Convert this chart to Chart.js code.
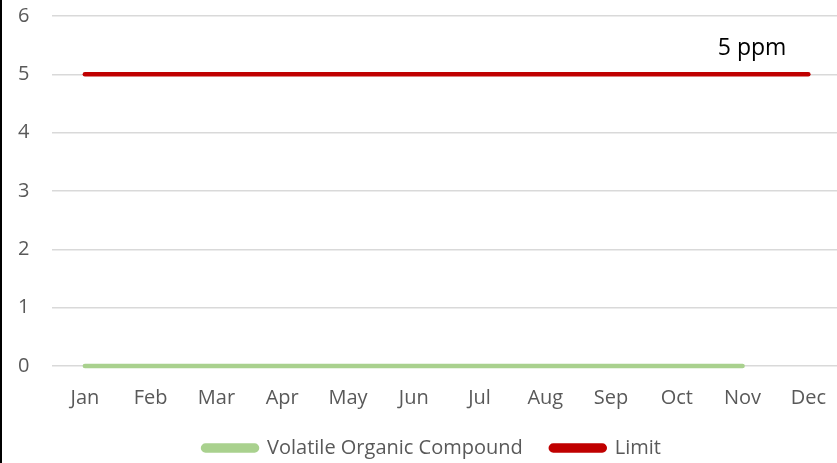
<!DOCTYPE html>
<html>
<head>
<meta charset="utf-8">
<script src="https://cdn.jsdelivr.net/npm/chart.js@4"></script>
<style>
  html, body { margin: 0; padding: 0; overflow: hidden; background: #fff; }
  #wrap { position: relative; width: 846px; height: 463px; border-left: 2px solid #000; box-sizing: border-box; }
</style>
</head>
<body>
<div id="wrap"><canvas id="vocChart"></canvas></div>
<script>
const months = ['Jan', 'Feb', 'Mar', 'Apr', 'May', 'Jun', 'Jul', 'Aug', 'Sep', 'Oct', 'Nov', 'Dec'];
const vocValues = [0, 0, 0, 0, 0, 0, 0, 0, 0, 0, 0, null];
const limitValues = [5, 5, 5, 5, 5, 5, 5, 5, 5, 5, 5, 5];
const limitLabel = '5 ppm';

const fontFamily = '"Open Sans", "Liberation Sans", sans-serif';

// writes the "5 ppm" note just above the limit line, near Dec
const limitNote = {
    id: 'limitNote',
    afterDatasetsDraw(chart) {
        const { ctx, scales } = chart;
        const x = scales.x.getPixelForValue(months.length - 1) - 22;
        const y = scales.y.getPixelForValue(limitValues[limitValues.length - 1]) - 19;
        ctx.save();
        ctx.font = '23px ' + fontFamily;
        ctx.fillStyle = '#000';
        ctx.textAlign = 'right';
        ctx.textBaseline = 'alphabetic';
        ctx.fillText(limitLabel, x, y);
        ctx.restore();
    }
};

// keep the legend block short so the plot can grow down to it
const legendHeight = {
    id: 'legendHeight',
    beforeInit(chart) {
        const fit = chart.legend.fit;
        chart.legend.fit = function () {
            fit.call(this);
            this.height = 53;
        };
    }
};

new Chart(document.getElementById('vocChart'), {
    type: 'line',
    data: {
        labels: months,
        datasets: [
            {
                label: 'Volatile Organic Compound',
                data: vocValues,
                borderColor: '#A9D18E',
                backgroundColor: '#A9D18E',
                borderWidth: 4.5,
                borderCapStyle: 'round',
                pointRadius: 0,
                clip: 6
            },
            {
                label: 'Limit',
                data: limitValues,
                borderColor: '#C00000',
                backgroundColor: '#C00000',
                borderWidth: 4.5,
                borderCapStyle: 'round',
                pointRadius: 0,
                clip: 6
            }
        ]
    },
    options: {
        responsive: true,
        maintainAspectRatio: false,
        animation: false,
        layout: { padding: { top: 16, left: 16, right: 0, bottom: 0 } },
        plugins: {
            tooltip: { enabled: false },
            legend: {
                position: 'bottom',
                labels: {
                    color: '#595959',
                    font: { family: fontFamily, size: 20 },
                    boxWidth: 54,
                    boxHeight: 5,
                    useBorderRadius: true,
                    borderRadius: 2.5,
                    padding: 28
                }
            }
        },
        scales: {
            x: {
                offset: true,
                afterFit(scale) { scale.height = 44; },
                grid: { display: false, drawTicks: false },
                border: { display: false },
                ticks: {
                    color: '#595959',
                    font: { family: fontFamily, size: 20 },
                    padding: 20,
                    maxRotation: 0
                }
            },
            y: {
                min: 0,
                max: 6,
                afterFit(scale) { scale.width = 34; },
                grid: { color: '#D9D9D9', lineWidth: 1.5, drawTicks: false },
                border: { display: false },
                ticks: {
                    stepSize: 1,
                    color: '#595959',
                    font: { family: fontFamily, size: 20 },
                    crossAlign: 'far',
                    padding: 0
                }
            }
        }
    },
    plugins: [limitNote, legendHeight]
});
</script>
</body>
</html>
